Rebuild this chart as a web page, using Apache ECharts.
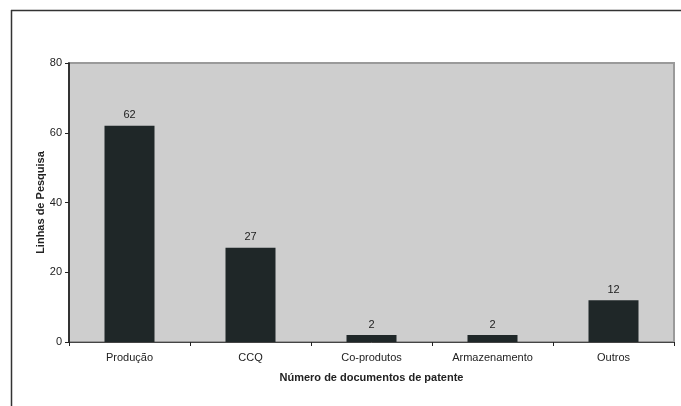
<!DOCTYPE html>
<html>
<head>
<meta charset="utf-8">
<script src="https://cdn.jsdelivr.net/npm/echarts@6/dist/echarts.min.js"></script>
<style>
  html, body { margin: 0; padding: 0; background: #fff; }
  #chart { width: 681px; height: 406px; }
</style>
</head>
<body>
<div id="chart"></div>
<script>
// Research lines by number of patent documents
const categories = ['Produção', 'CCQ', 'Co-produtos', 'Armazenamento', 'Outros'];
const documentCounts = [62, 27, 2, 2, 12];
const yTicks = [0, 20, 40, 60, 80];

const FONT = '"Liberation Sans", Arial, sans-serif';

const chart = echarts.init(document.getElementById('chart'), null, { renderer: 'canvas' });

chart.setOption({
  backgroundColor: '#ffffff',
  animation: false,
  textStyle: { fontFamily: FONT },
  grid: {
    left: 69, right: 7, top: 63, bottom: 64,
    show: true,
    backgroundColor: '#cecece',
    borderColor: '#9a9a9a',
    borderWidth: 2
  },
  graphic: [
    // outer frame: top and left edges
    { type: 'line', shape: { x1: 11, y1: 10.5, x2: 681, y2: 10.5 }, style: { stroke: '#333', lineWidth: 1.5 } },
    { type: 'line', shape: { x1: 11.5, y1: 10, x2: 11.5, y2: 406 }, style: { stroke: '#333', lineWidth: 1.5 } }
  ],
  xAxis: {
    type: 'category',
    data: categories,
    name: 'Número de documentos de patente',
    nameLocation: 'middle',
    nameGap: 30,
    nameMoveOverlap: false,
    nameTextStyle: { fontFamily: FONT, fontWeight: 'bold', fontSize: 11, color: '#222' },
    axisLine: { lineStyle: { color: '#444', width: 1 } },
    axisTick: { show: true, alignWithLabel: false, length: 4, lineStyle: { color: '#222' } },
    axisLabel: { fontFamily: FONT, fontSize: 11, color: '#222', margin: 10 }
  },
  yAxis: {
    type: 'value',
    min: yTicks[0],
    max: yTicks[yTicks.length - 1],
    interval: yTicks[1] - yTicks[0],
    name: 'Linhas de Pesquisa',
    nameLocation: 'middle',
    nameGap: 23,
    nameMoveOverlap: false,
    nameTextStyle: { fontFamily: FONT, fontWeight: 'bold', fontSize: 11, color: '#222' },
    axisLine: { show: true, lineStyle: { color: '#111', width: 1.5 } },
    axisTick: { show: true, length: 4, lineStyle: { color: '#222' } },
    axisLabel: { fontFamily: FONT, fontSize: 11, color: '#222', margin: 7 },
    splitLine: { show: false }
  },
  series: [{
    type: 'bar',
    data: documentCounts,
    barWidth: 50,
    itemStyle: { color: '#1f2728' },
    label: {
      show: true,
      position: 'top',
      distance: 5,
      fontFamily: FONT,
      fontSize: 11,
      color: '#222'
    }
  }]
});
</script>
</body>
</html>
